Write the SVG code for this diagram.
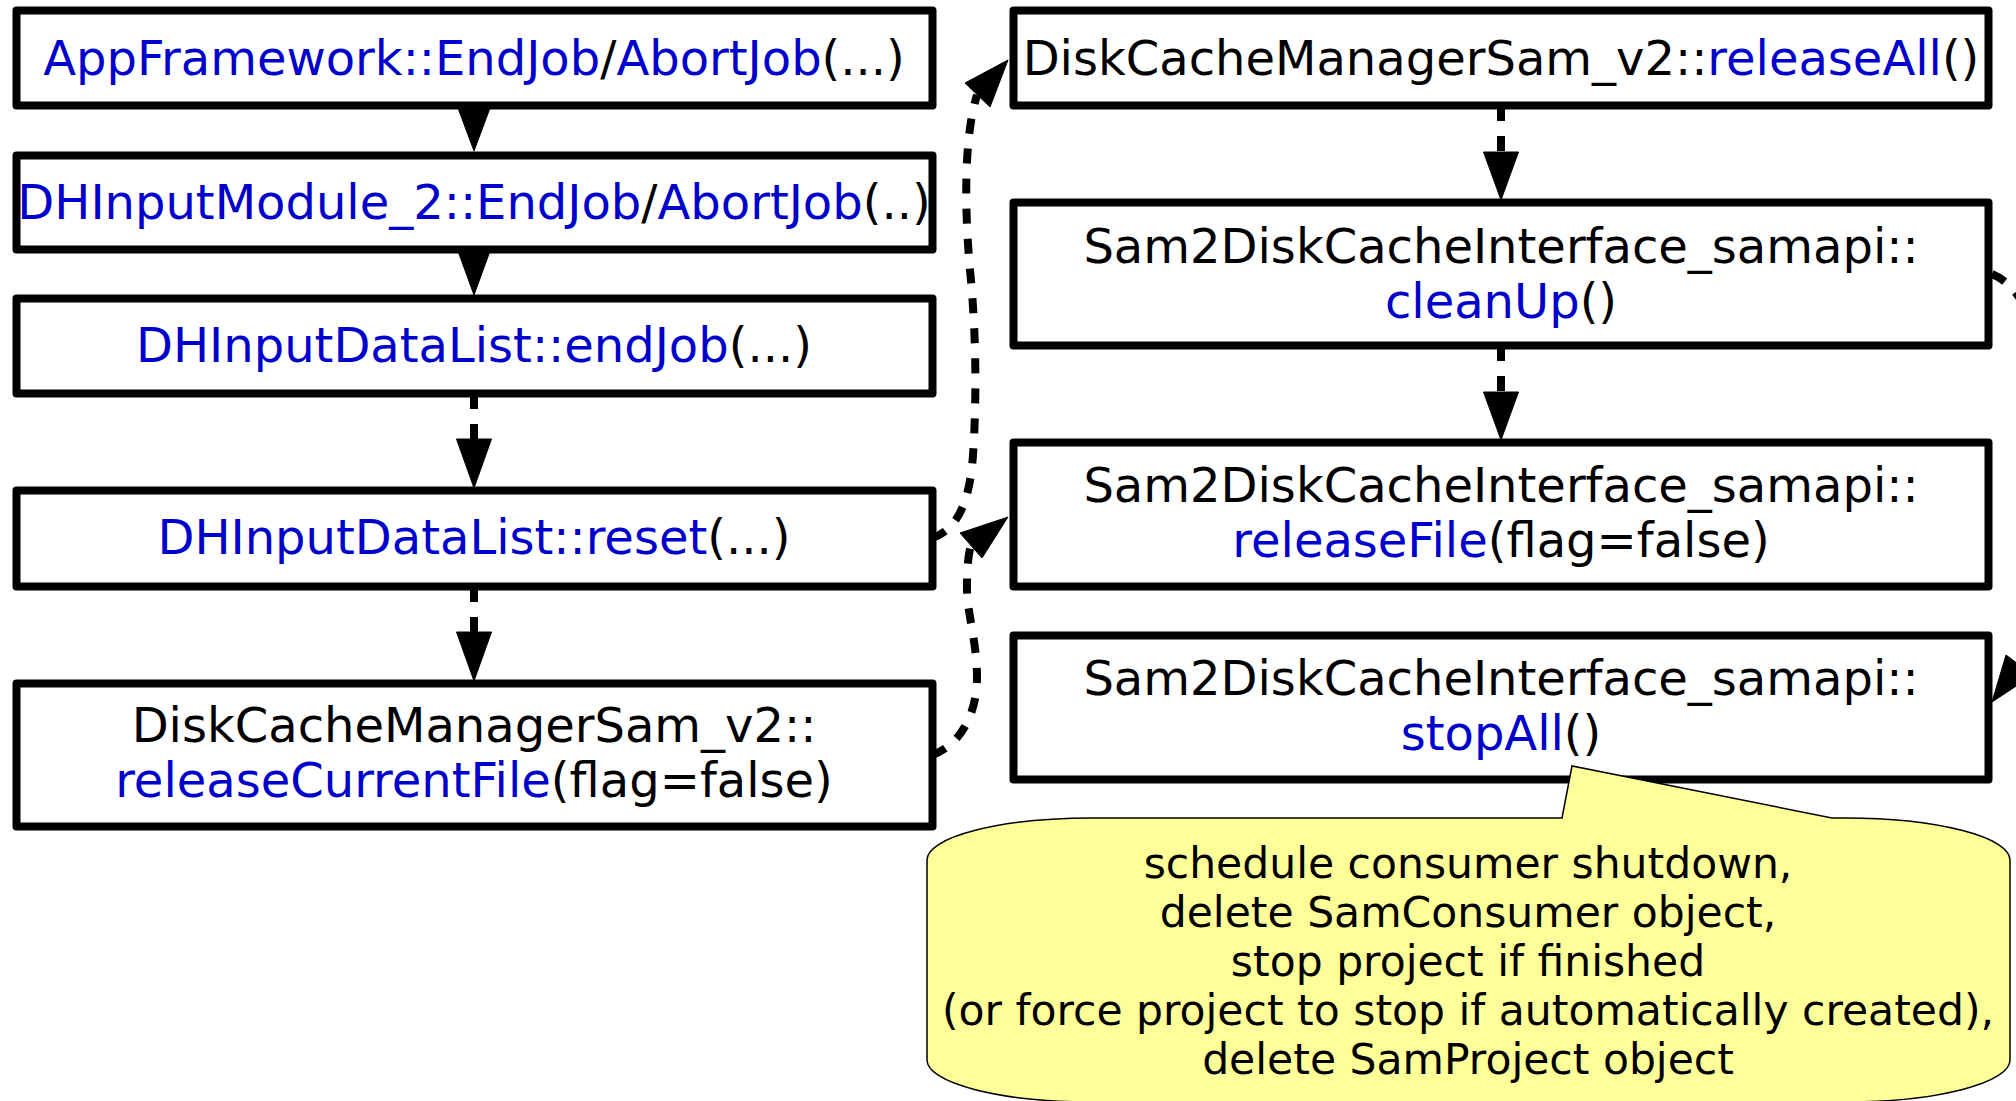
<svg xmlns="http://www.w3.org/2000/svg" width="2016" height="1101" viewBox="0 0 2016 1101">
<style>
  .box { fill: #ffffff; stroke: #000000; stroke-width: 8; stroke-linejoin: round; }
  .t { font-family: "DejaVu Sans", "Liberation Sans", sans-serif; font-size: 48px; fill: #000000; text-anchor: middle; }
  .b { fill: #0000cc; }
  .edge { fill: none; stroke: #000000; stroke-width: 8; stroke-dasharray: 15 15; }
  .head { fill: #000000; stroke: #000000; stroke-width: 1; stroke-linejoin: miter; }
  .note { fill: #ffff99; stroke: #000000; stroke-width: 1.5; stroke-linejoin: miter; }
  .nt { font-family: "DejaVu Sans", "Liberation Sans", sans-serif; font-size: 42.5px; fill: #000000; text-anchor: middle; }
</style>
<rect x="0" y="0" width="2016" height="1101" fill="#ffffff"/>
<g id="edges">
  <polygon class="head" points="456.5,104 491.5,104 474,151"/>
  <polygon class="head" points="456.5,247 491.5,247 474,295"/>
  <path class="edge" d="M474,394 L474,439"/>
  <polygon class="head" points="456.5,439 491.5,439 474,488"/>
  <path class="edge" d="M474,587 L474,632"/>
  <polygon class="head" points="456.5,632 491.5,632 474,681"/>
  <path class="edge" d="M1501,106 L1501,152"/>
  <polygon class="head" points="1483.5,152 1518.5,152 1501,200"/>
  <path class="edge" d="M1501,346 L1501,392"/>
  <polygon class="head" points="1483.5,392 1518.5,392 1501,440"/>
  <path class="edge" d="M932,538 C958,530 970,500 973,455 C977,395 976,330 970,270 C965,215 963,140 977,95"/>
  <polygon class="head" points="965,83 990,107 1008,60"/>
  <path class="edge" d="M932,755 C960,745 977,715 977,677 C977,640 966,610 967,585 C967,570 968,555 971,545"/>
  <polygon class="head" points="960,533 982,558 1008,517"/>
  <path class="edge" d="M1992,274 C2012,282 2035,310 2040,360 L2040,600 C2040,625 2030,645 2020,665"/>
  <polygon class="head" points="2006,655 2033,675 1992,702"/>
</g>
<g id="n1">
  <rect class="box" x="16.5" y="10.5" width="916" height="95"/>
  <text class="t" x="474" y="75"><tspan class="b">AppFramework::EndJob</tspan>/<tspan class="b">AbortJob</tspan>(...)</text>
</g>
<g id="n2">
  <rect class="box" x="16.5" y="155.5" width="916" height="94"/>
  <text class="t" x="474" y="219"><tspan class="b">DHInputModule_2::EndJob</tspan>/<tspan class="b">AbortJob</tspan>(..)</text>
</g>
<g id="n3">
  <rect class="box" x="16.5" y="298.5" width="916" height="95"/>
  <text class="t" x="474" y="362"><tspan class="b">DHInputDataList::endJob</tspan>(...)</text>
</g>
<g id="n4">
  <rect class="box" x="16.5" y="490.5" width="916" height="96"/>
  <text class="t" x="474" y="554"><tspan class="b">DHInputDataList::reset</tspan>(...)</text>
</g>
<g id="n5">
  <rect class="box" x="16.5" y="683.5" width="916" height="143"/>
  <text class="t" x="474" y="742">DiskCacheManagerSam_v2::</text>
  <text class="t" x="474" y="797"><tspan class="b">releaseCurrentFile</tspan>(flag=false)</text>
</g>
<g id="n6">
  <rect class="box" x="1013.5" y="10.5" width="975" height="95"/>
  <text class="t" x="1501" y="75">DiskCacheManagerSam_v2::<tspan class="b">releaseAll</tspan>()</text>
</g>
<g id="n7">
  <rect class="box" x="1013.5" y="202.5" width="975" height="143"/>
  <text class="t" x="1501" y="263">Sam2DiskCacheInterface_samapi::</text>
  <text class="t" x="1501" y="318"><tspan class="b">cleanUp</tspan>()</text>
</g>
<g id="n8">
  <rect class="box" x="1013.5" y="442.5" width="975" height="144"/>
  <text class="t" x="1501" y="502">Sam2DiskCacheInterface_samapi::</text>
  <text class="t" x="1501" y="557"><tspan class="b">releaseFile</tspan>(flag=false)</text>
</g>
<g id="n9">
  <rect class="box" x="1013.5" y="635.5" width="975" height="144"/>
  <text class="t" x="1501" y="695">Sam2DiskCacheInterface_samapi::</text>
  <text class="t" x="1501" y="750"><tspan class="b">stopAll</tspan>()</text>
</g>
<g id="note">
  <path class="note" d="M927,860 A165,42 0 0 1 1092,818 L1562,818 L1572,766 L1832,818 L1845,818 A165,42 0 0 1 2010,860 L2010,1060 A165,42 0 0 1 1845,1102 L1092,1102 A165,42 0 0 1 927,1060 Z"/>
  <text class="nt" x="1468" y="878">schedule consumer shutdown,</text>
  <text class="nt" x="1468" y="927">delete SamConsumer object,</text>
  <text class="nt" x="1468" y="976">stop project if finished</text>
  <text class="nt" x="1468" y="1025">(or force project to stop if automatically created),</text>
  <text class="nt" x="1468" y="1074">delete SamProject object</text>
</g>
</svg>
